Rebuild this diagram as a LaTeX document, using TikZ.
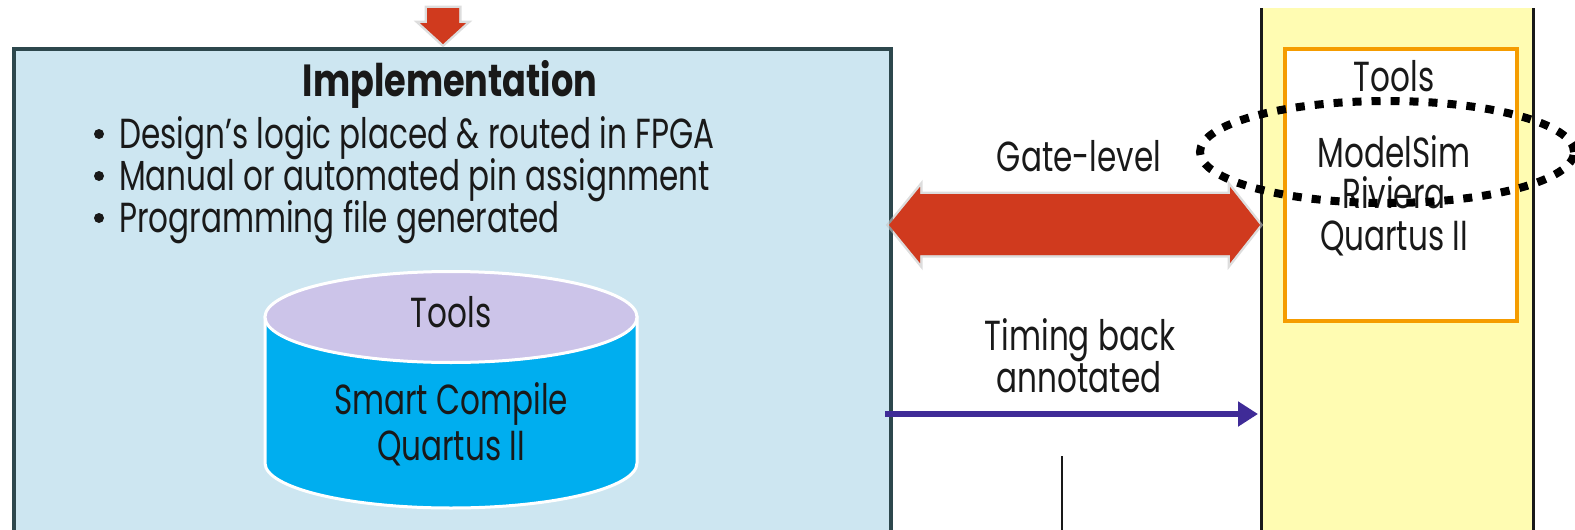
\documentclass[tikz,border=0pt]{standalone}
\usepackage{fontspec}
\setmainfont{Poppins}[FakeStretch=0.74]
\newfontfamily\ttlfont{Poppins}[FakeStretch=0.78]
\usetikzlibrary{arrows.meta,shapes.geometric}
\definecolor{implfill}{HTML}{CDE6F1}
\definecolor{impldraw}{HTML}{2D474D}
\definecolor{redarrow}{HTML}{D03A1E}
\definecolor{cylbody}{HTML}{00AEEF}
\definecolor{cyltop}{HTML}{CCC4E9}
\definecolor{colyellow}{HTML}{FFFCB2}
\definecolor{toolorange}{HTML}{F59C00}
\definecolor{timeblue}{HTML}{3F2B97}
\begin{document}
\begin{tikzpicture}[x=1pt,y=-1pt,
  txt/.style={font=\fontsize{42}{46}\selectfont, text=black!90, inner sep=0pt, anchor=base},
  ttl/.style={font=\ttlfont\bfseries\fontsize{45}{50}\selectfont, text=black!90, inner sep=0pt, anchor=base},
  bul/.style={circle, fill=black!90, inner sep=0pt, minimum size=10pt},
  redshape/.style={fill=redarrow, draw=black!22, line width=5pt, line join=miter},
  redfill/.style={fill=redarrow}]
\useasboundingbox (0,0) rectangle (1575,530);
\begin{scope}
\clip (0,0) rectangle (1575,530);
% yellow simulation column
\fill[colyellow] (1261,8) rectangle (1533,545);
\draw[line width=3pt, black!90] (1261,8) -- (1261,545) (1533,8) -- (1533,545);
% implementation box
\node[draw=impldraw, fill=implfill, line width=4pt, minimum width=877pt, minimum height=520pt, anchor=north west, inner sep=0pt] (impl) at (12,47) {};
% top red arrow
\coordinate (topin) at (443,44);
\path[redshape, draw opacity=0.6] ([xshift=-16pt]topin) ++(0,-36) -- ++(32,0) -- ++(0,15) -- ++(7,0) -- (topin) -- ++(-23,-21) -- ++(7,0) -- cycle;
\fill[redfill] ([xshift=-16pt]topin) ++(0,-36) -- ++(32,0) -- ++(0,15) -- ++(7,0) -- (topin) -- ++(-23,-21) -- ++(7,0) -- cycle;
% cylinder
\fill[cylbody, draw=white, line width=3pt] (265,317) -- (265,463) arc[start angle=180, end angle=360, x radius=186pt, y radius=45pt] -- (637,317) -- cycle;
\node[ellipse, fill=cyltop, draw=white, line width=3pt, minimum width=372pt, minimum height=91pt, inner sep=0pt] (cyl) at (451,317) {};
% double red arrow
\coordinate (gl) at (889,225);
\coordinate (gr) at (1260,225);
\path[redshape, draw opacity=0.6] (gl) -- ++(31,-38) -- ++(0,7) -- ([shift={(-30,-31)}]gr) -- ++(0,-7) -- (gr) -- ++(-30,38) -- ++(0,-8) -- ([shift={(31,30)}]gl) -- ++(0,8) -- cycle;
\fill[redfill] (gl) -- ++(31,-38) -- ++(0,7) -- ([shift={(-30,-31)}]gr) -- ++(0,-7) -- (gr) -- ++(-30,38) -- ++(0,-8) -- ([shift={(31,30)}]gl) -- ++(0,8) -- cycle;
% blue timing arrow
\coordinate (tl) at (885,414);
\coordinate (tr) at (1258,414);
\draw[timeblue, line width=6pt, -{Triangle[length=20pt, width=24pt]}] (tl) -- (tr);
% vertical line
\coordinate (vt) at (1062,456);
\coordinate (vb) at (1062,545);
\draw[line width=2.5pt, black!90] (vt) -- (vb);
% orange tools box
\node[draw=toolorange, fill=white, line width=4pt, minimum width=232pt, minimum height=272pt, anchor=north west, inner sep=0pt] (tools) at (1283,47) {};
% texts
\node[ttl] (title) at (450,96) {Implementation};
\node[bul] (b1) at (99,134) {};
\node[bul] (b2) at (99,176) {};
\node[bul] (b3) at (99,218) {};
\node[txt, anchor=base west] (t1) at (119,148) {Design's logic placed \& routed in FPGA};
\node[txt, anchor=base west] (t2) at (119,190) {Manual or automated pin assignment};
\node[txt, anchor=base west] (t3) at (119,232) {Programming file generated};
\node[txt] (cyltools) at (451,327) {Tools};
\node[txt] (sc) at (451,414) {Smart Compile};
\node[txt] (qc) at (451,460) {Quartus II};
\node[txt] (gate) at (1079,171) {Gate-level};
\node[txt] (tim1) at (1080,350) {Timing back};
\node[txt] (tim2) at (1079,392) {annotated};
\node[txt] (rtools) at (1394,91) {Tools};
\node[txt] (ms) at (1394,167) {ModelSim};
\node[txt] (riv) at (1394,208) {Riviera};
\node[txt] (rq) at (1394,250) {Quartus II};
% dotted ellipse
\draw[line width=8pt, black, dash pattern=on 9pt off 10pt] (1387,152) ellipse[x radius=187pt, y radius=51pt];
\end{scope}
\end{tikzpicture}
\end{document}
